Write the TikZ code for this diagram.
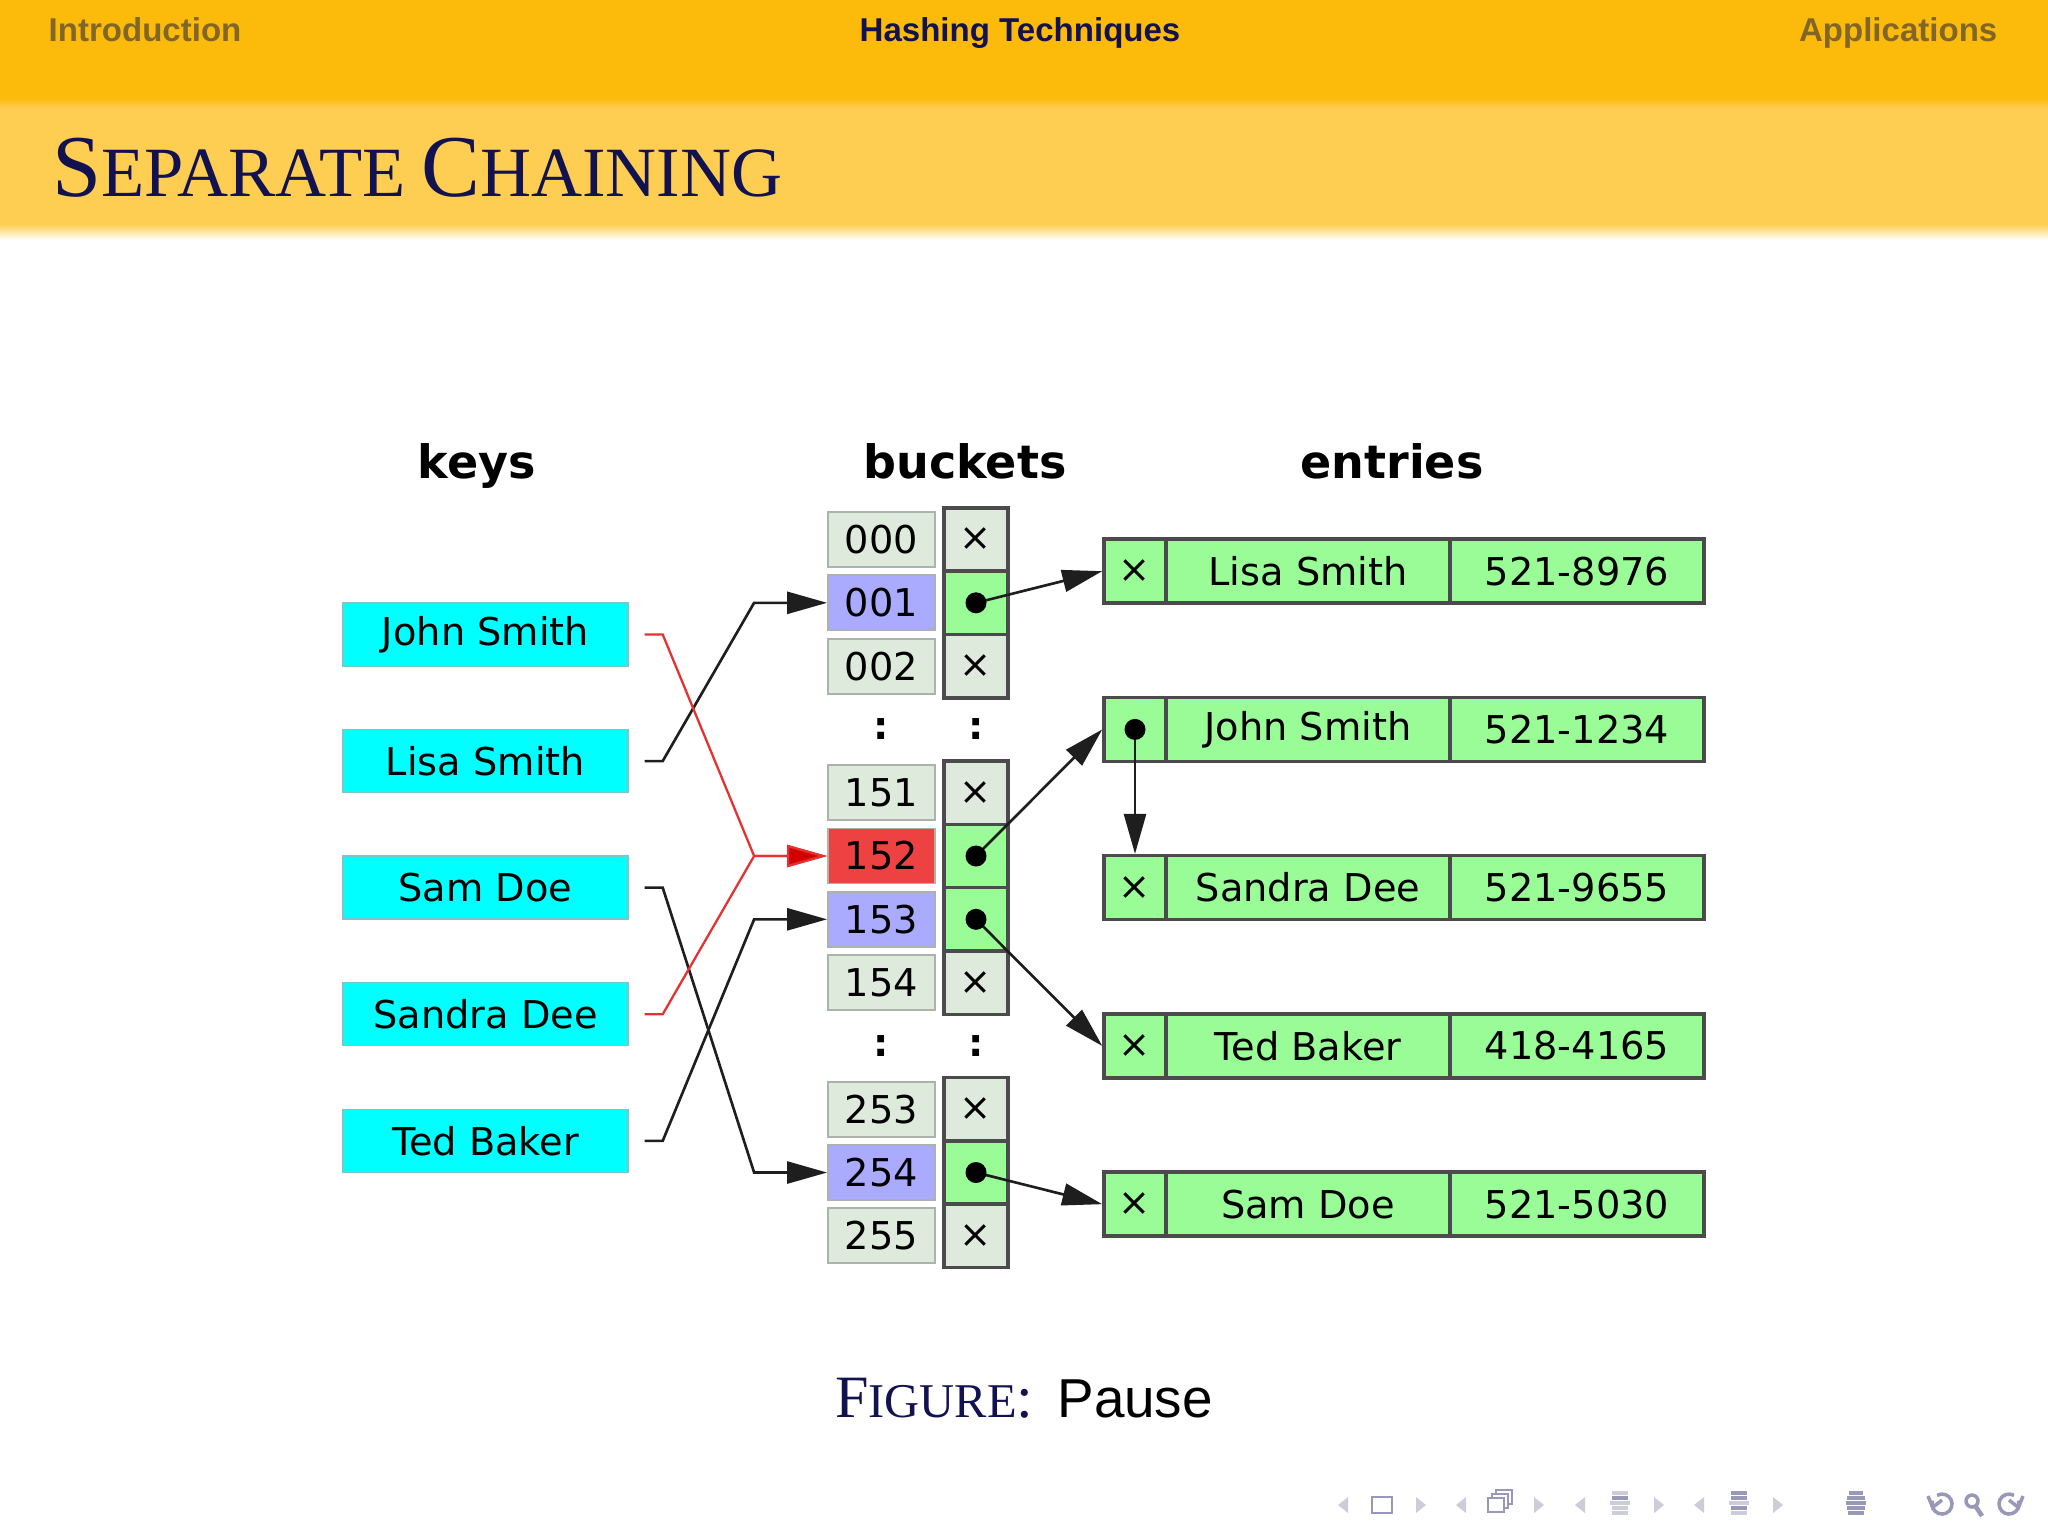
\documentclass[tikz,border=0pt]{standalone}
\usepackage{fontspec}
\setmainfont{Liberation Serif}
\newfontfamily\hsans{Liberation Sans}
\newfontfamily\dvs{DejaVu Sans}
\usetikzlibrary{arrows.meta,calc}

\definecolor{bandA}{RGB}{252,187,10}
\definecolor{bandB}{RGB}{254,206,82}
\definecolor{navy}{RGB}{18,18,80}
\definecolor{inact}{RGB}{130,102,40}
\definecolor{keycyan}{RGB}{0,255,255}
\definecolor{keyborder}{RGB}{120,200,200}
\definecolor{lblgray}{RGB}{222,234,220}
\definecolor{lblborder}{RGB}{170,180,170}
\definecolor{lav}{RGB}{170,170,255}
\definecolor{redc}{RGB}{238,66,66}
\definecolor{grn}{RGB}{153,252,150}
\definecolor{bord}{RGB}{75,75,75}
\definecolor{redline}{RGB}{228,50,50}
\definecolor{redtip}{RGB}{210,0,0}
\definecolor{conncol}{RGB}{30,30,30}
\definecolor{navgray}{RGB}{152,152,184}
\definecolor{navlight}{RGB}{205,205,218}

\newcommand\diagfont{\dvs\fontsize{10.9}{12}\selectfont}
\newcommand\bigsc{\fontsize{25.1}{28}\selectfont}
\newcommand\smallsc{\fontsize{20.1}{22}\selectfont}
\newcommand\capbig{\fontsize{17.1}{20}\selectfont}
\newcommand\capsmall{\fontsize{13.8}{16}\selectfont}

\tikzset{
  keybox/.style={draw=keyborder, fill=keycyan, line width=0.4pt, minimum width=28.5mm, minimum height=6.3mm, inner sep=0pt, font=\diagfont},
  lbl/.style={draw=lblborder, fill=lblgray, line width=0.5pt, minimum width=10.7mm, minimum height=5.5mm, inner sep=0pt, font=\diagfont},
  ptr/.style={draw=bord, fill=lblgray, line width=1pt, minimum width=6.4mm, minimum height=6.33mm, inner sep=0pt, font=\diagfont},
  ecell/.style={draw=bord, fill=grn, line width=1pt, minimum height=6.4mm, inner sep=0pt, font=\diagfont},
  exc/.style={ecell, minimum width=6.2mm},
  enm/.style={ecell, minimum width=28.4mm},
  enu/.style={ecell, minimum width=25.4mm},
  colhead/.style={font=\dvs\bfseries\fontsize{13.1}{15}\selectfont, anchor=base, inner sep=0pt},
  dotsym/.style={font=\dvs\bfseries\fontsize{10.9}{12}\selectfont, inner sep=0pt},
  conn/.style={draw=conncol, line width=0.75pt, -{Triangle[length=4mm,width=2.2mm]}},
  redconn/.style={draw=redline, line width=0.65pt, -{Triangle[length=4mm,width=2.2mm,fill=redtip]}},
  hdr/.style={font=\hsans\bfseries\fontsize{9.4}{11}\selectfont, inner sep=0pt},
  navtri/.style={fill=navlight},
  navline/.style={draw=navgray, line width=0.6pt},
}

\begin{document}
\begin{tikzpicture}[x=0.1mm,y=-0.1mm]
\useasboundingbox (0,0) rectangle (2048,1536);
\fill[white] (0,0) rectangle (2048,1536);

% ---- header bands ----
\fill[bandA] (0,0) rectangle (2048,98);
\shade[top color=bandA, bottom color=bandB] (0,98) rectangle (2048,108);
\fill[bandB] (0,108) rectangle (2048,224);
\shade[top color=bandB, bottom color=white] (0,224) rectangle (2048,240);

\node[hdr, text=inact, anchor=base west] (hIntro) at (48,41) {Introduction};
\node[hdr, text=navy, anchor=base] (hHash) at (1020,41) {Hashing Techniques};
\node[hdr, text=inact, anchor=base east] (hApp) at (1998,41) {Applications};

\node[anchor=base west, inner sep=0pt, text=navy] (title) at (52,196)
  {{\bigsc S}{\smallsc EPARATE}\hspace{1.6mm}{\bigsc C}{\smallsc HAINING}};

% ---- column headers ----
\node[colhead] (hkeys) at (477,478) {keys};
\node[colhead] (hbuck) at (965,478) {buckets};
\node[colhead] (hentr) at (1392,478) {entries};

% ---- keys ----
\node[keybox] (kJ) at (485.5,634.45) {John Smith};
\node[keybox] (kL) at (485.5,761.05) {Lisa Smith};
\node[keybox] (kSam) at (485.5,887.65) {Sam Doe};
\node[keybox] (kSan) at (485.5,1014.25) {Sandra Dee};
\node[keybox] (kT) at (485.5,1140.85) {Ted Baker};

% ---- bucket labels ----
\node[lbl] (b000) at (881.5,539.5) {000};
\node[lbl, fill=lav] (b001) at (881.5,602.8) {001};
\node[lbl] (b002) at (881.5,666.1) {002};
\node[dotsym] (d1) at (881.5,729.4) {:};
\node[lbl] (b151) at (881.5,792.7) {151};
\node[lbl, fill=redc] (b152) at (881.5,856.0) {152};
\node[lbl, fill=lav] (b153) at (881.5,919.3) {153};
\node[lbl] (b154) at (881.5,982.6) {154};
\node[dotsym] (d2) at (881.5,1045.9) {:};
\node[lbl] (b253) at (881.5,1109.2) {253};
\node[lbl, fill=lav] (b254) at (881.5,1172.5) {254};
\node[lbl] (b255) at (881.5,1235.8) {255};

% ---- bucket pointers ----
\node[ptr] (p000) at (976,539.5) {×};
\node[ptr, fill=grn] (p001) at (976,602.8) {};
\node[ptr] (p002) at (976,666.1) {×};
\node[dotsym] (d3) at (976,729.4) {:};
\node[ptr] (p151) at (976,792.7) {×};
\node[ptr, fill=grn] (p152) at (976,856.0) {};
\node[ptr, fill=grn] (p153) at (976,919.3) {};
\node[ptr] (p154) at (976,982.6) {×};
\node[dotsym] (d4) at (976,1045.9) {:};
\node[ptr] (p253) at (976,1109.2) {×};
\node[ptr, fill=grn] (p254) at (976,1172.5) {};
\node[ptr] (p255) at (976,1235.8) {×};

% ---- entries ----
\node[exc] (eLx) at (1135,571.15) {×};
\node[enm] (eLn) at (1308,571.15) {Lisa Smith};
\node[enu] (eLp) at (1577,571.15) {521-8976};

\node[exc] (eJx) at (1135,729.4) {};
\node[enm] (eJn) at (1308,729.4) {John Smith};
\node[enu] (eJp) at (1577,729.4) {521-1234};

\node[exc] (eSx) at (1135,887.65) {×};
\node[enm] (eSn) at (1308,887.65) {Sandra Dee};
\node[enu] (eSp) at (1577,887.65) {521-9655};

\node[exc] (eTx) at (1135,1045.9) {×};
\node[enm] (eTn) at (1308,1045.9) {Ted Baker};
\node[enu] (eTp) at (1577,1045.9) {418-4165};

\node[exc] (eDx) at (1135,1204.15) {×};
\node[enm] (eDn) at (1308,1204.15) {Sam Doe};
\node[enu] (eDp) at (1577,1204.15) {521-5030};

% ---- key -> bucket connectors ----
\draw[conn] ($(kL.east)+(16,0)$) -- ++(18,0) -- ($(b001.west)+(-73,0)$) -- (b001.west);
\draw[conn] ($(kSam.east)+(16,0)$) -- ++(18,0) -- ($(b254.west)+(-73,0)$) -- (b254.west);
\draw[conn] ($(kT.east)+(16,0)$) -- ++(18,0) -- ($(b153.west)+(-73,0)$) -- (b153.west);
\draw[redconn] ($(kJ.east)+(16,0)$) -- ++(18,0) -- ($(b152.west)+(-73,0)$) -- (b152.west);
\draw[redconn] ($(kSan.east)+(16,0)$) -- ++(18,0) -- ($(b152.west)+(-73,0)$) -- (b152.west);

% ---- pointer -> entry connectors ----
\draw[conn] (p001.center) -- (eLx.west);
\draw[conn] (p152.center) -- (eJx.west);
\draw[conn] (p153.center) -- (eTx.west);
\draw[conn] (p254.center) -- (eDx.west);
\draw[conn] (eJx.center) -- (eSx.north);

\foreach \n in {p001,p152,p153,p254,eJx} \fill[black] (\n.center) circle (10.5);

% ---- caption ----
\node[anchor=base, inner sep=0pt] (cap) at (1024,1417)
  {{\color{navy}{\capbig F}{\capsmall IGURE}{\capbig :}}\hspace{2.4mm}{\hsans\fontsize{15.6}{18}\selectfont Pause}};

% ---- navigation symbols ----
\foreach \x in {1343,1461,1580,1699} \fill[navtri] (\x-5,1505) -- (\x+5,1497) -- (\x+5,1513) -- cycle;
\foreach \x in {1421,1539,1659,1778} \fill[navtri] (\x+5,1505) -- (\x-5,1497) -- (\x-5,1513) -- cycle;
\draw[navline] (1372,1497) rectangle (1392,1513);
\draw[navline, fill=white] (1496,1490) rectangle (1512,1504);
\draw[navline, fill=white] (1492,1494) rectangle (1508,1508);
\draw[navline, fill=white] (1488,1498) rectangle (1504,1512);
\foreach \yy/\w/\c in {1493/8/navlight,1498/8/navgray,1503/10/navlight,1508/8/navlight,1513/8/navlight}
  \draw[\c, line width=1.2pt] (1620-\w,\yy) -- (1620+\w,\yy);
\foreach \yy/\w/\c in {1493/8/navgray,1498/8/navgray,1503/10/navlight,1508/8/navgray,1513/8/navlight}
  \draw[\c, line width=1.2pt] (1739-\w,\yy) -- (1739+\w,\yy);
\foreach \yy/\w in {1493/7,1498/9,1503/10,1508/9,1513/8}
  \draw[navgray, line width=1.2pt] (1856-\w,\yy) -- (1856+\w,\yy);
% back, search, forward
\draw[navline, line width=1pt] (1942,1504) ++(200:10) arc (200:-120:10);
\draw[navline, line width=1pt] (1928,1496) -- (1932.6,1507.4) -- (1942,1500);
\draw[navline, line width=1pt] (1972,1501) circle (6);
\draw[navline, line width=1.3pt] (1976,1507) -- (1982,1516);
\draw[navline, line width=1pt] (2009,1504) ++(-20:10) arc (-20:300:10);
\draw[navline, line width=1pt] (2023,1496) -- (2018.4,1507.4) -- (2009,1500);
\end{tikzpicture}
\end{document}
